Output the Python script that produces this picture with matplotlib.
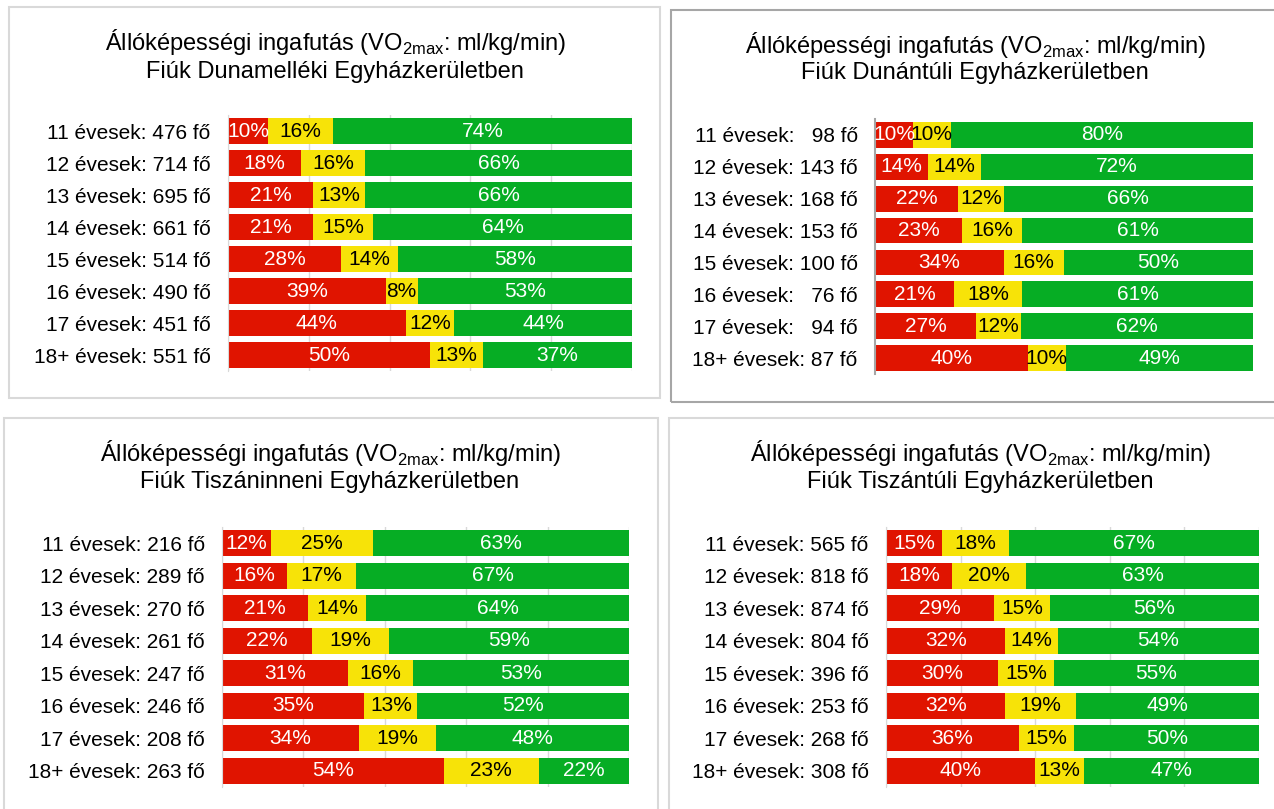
import matplotlib
matplotlib.use("Agg")
import matplotlib.pyplot as plt
from matplotlib.patches import Rectangle
import numpy as np

plt.rcParams['font.family'] = ['Liberation Sans', 'DejaVu Sans']
plt.rcParams['mathtext.fontset'] = 'custom'
plt.rcParams['mathtext.rm'] = 'Liberation Sans'

# data
ages = ['11', '12', '13', '14', '15', '16', '17', '18+']

regions = ['Dunamelléki', 'Dunántúli', 'Tiszáninneni', 'Tiszántúli']

n_dunamelleki = [476, 714, 695, 661, 514, 490, 451, 551]
red_dunamelleki = [10, 18, 21, 21, 28, 39, 44, 50]
yel_dunamelleki = [16, 16, 13, 15, 14, 8, 12, 13]
grn_dunamelleki = [74, 66, 66, 64, 58, 53, 44, 37]

n_dunantuli = [98, 143, 168, 153, 100, 76, 94, 87]
red_dunantuli = [10, 14, 22, 23, 34, 21, 27, 40]
yel_dunantuli = [10, 14, 12, 16, 16, 18, 12, 10]
grn_dunantuli = [80, 72, 66, 61, 50, 61, 62, 49]

n_tiszaninneni = [216, 289, 270, 261, 247, 246, 208, 263]
red_tiszaninneni = [12, 16, 21, 22, 31, 35, 34, 54]
yel_tiszaninneni = [25, 17, 14, 19, 16, 13, 19, 23]
grn_tiszaninneni = [63, 67, 64, 59, 53, 52, 48, 22]

n_tiszantuli = [565, 818, 874, 804, 396, 253, 268, 308]
red_tiszantuli = [15, 18, 29, 32, 30, 32, 36, 40]
yel_tiszantuli = [18, 20, 15, 14, 15, 19, 15, 13]
grn_tiszantuli = [67, 63, 56, 54, 55, 49, 50, 47]

RED = '#e01400'
YEL = '#f7e308'
GRN = '#06ad24'

W, H = 1274, 809
fig = plt.figure(figsize=(W / 100, H / 100), dpi=100)


def px(x0, y0, x1, y1):
    # pixel box (top-left origin) -> figure fraction rect
    return [x0 / W, 1 - y1 / H, (x1 - x0) / W, (y1 - y0) / H]


panels = [
    # region, n, red, yel, grn, border, axes box, title center, grid, border color
    (regions[0], n_dunamelleki, red_dunamelleki, yel_dunamelleki, grn_dunamelleki,
     (9, 7, 660, 398), (228, 115, 632, 371), (335, 42, 72), True, '#d9d9d9'),
    (regions[1], n_dunantuli, red_dunantuli, yel_dunantuli, grn_dunantuli,
     (671, 10, 1280, 402), (875, 119, 1253, 374), (975, 45, 73), False, '#a6a6a6'),
    (regions[2], n_tiszaninneni, red_tiszaninneni, yel_tiszaninneni, grn_tiszaninneni,
     (4, 418, 658, 812), (222, 527, 629, 787), (330, 453, 482), True, '#d9d9d9'),
    (regions[3], n_tiszantuli, red_tiszantuli, yel_tiszantuli, grn_tiszantuli,
     (669, 418, 1280, 812), (886, 527, 1259, 787), (980, 453, 482), True, '#d9d9d9'),
]

for name, n, red, yel, grn, border, box, tpos, grid, bcol in panels:
    bx0, by0, bx1, by1 = border
    fig.patches.append(Rectangle((bx0 / W, 1 - by1 / H), (bx1 - bx0) / W, (by1 - by0) / H,
                                 transform=fig.transFigure, fill=False,
                                 edgecolor=bcol, linewidth=1.5))
    cx, ty1, ty2 = tpos
    fig.text(cx / W, 1 - ty1 / H, 'Állóképességi ingafutás (VO$_\\mathrm{2max}$: ml/kg/min)',
             ha='center', va='center', fontsize=17)
    fig.text(cx / W, 1 - ty2 / H, 'Fiúk ' + name + ' Egyházkerületben',
             ha='center', va='center', fontsize=17)

    ax = fig.add_axes(px(*box))
    r = np.array(red, float)
    y_ = np.array(yel, float)
    g = np.array(grn, float)
    tot = r + y_ + g
    rs, ys, gs = r / tot * 100, y_ / tot * 100, g / tot * 100
    pos = np.arange(len(ages))
    h = 0.81
    ax.barh(pos, rs, height=h, color=RED, zorder=2)
    ax.barh(pos, ys, left=rs, height=h, color=YEL, zorder=2)
    ax.barh(pos, gs, left=rs + ys, height=h, color=GRN, zorder=2)
    for i in pos:
        ax.text(rs[i] / 2, i, f'{red[i]}%', ha='center', va='center', color='white', fontsize=15, zorder=3)
        ax.text(rs[i] + ys[i] / 2, i, f'{yel[i]}%', ha='center', va='center', color='black', fontsize=15, zorder=3)
        ax.text(rs[i] + ys[i] + gs[i] / 2, i, f'{grn[i]}%', ha='center', va='center', color='white', fontsize=15, zorder=3)

    width = max(len(str(v)) for v in n)
    labels = []
    for a, v in zip(ages, n):
        s = str(v)
        pad = '  ' * (width - len(s)) if len(a) == 2 else ''
        labels.append(f'{a} évesek: {pad}{s} fő')
    ax.set_yticks(pos)
    ax.set_yticklabels(labels, fontsize=15)
    ax.tick_params(axis='y', length=0, pad=12.5)
    ax.set_ylim(len(ages) - 0.5, -0.5)
    ax.set_xlim(0, 100)
    ax.set_xticks([0, 20, 40, 60, 80, 100])
    ax.tick_params(axis='x', length=0, labelbottom=False)
    for s in ['top', 'right', 'bottom']:
        ax.spines[s].set_visible(False)
    if grid:
        ax.grid(axis='x', color='#d9d9d9', linewidth=1, zorder=0)
        ax.spines['left'].set_color('#d9d9d9')
    else:
        ax.spines['left'].set_color('#a6a6a6')
        ax.spines['left'].set_linewidth(1.5)
    ax.set_axisbelow(True)

fig.savefig('out.png', dpi=100)
